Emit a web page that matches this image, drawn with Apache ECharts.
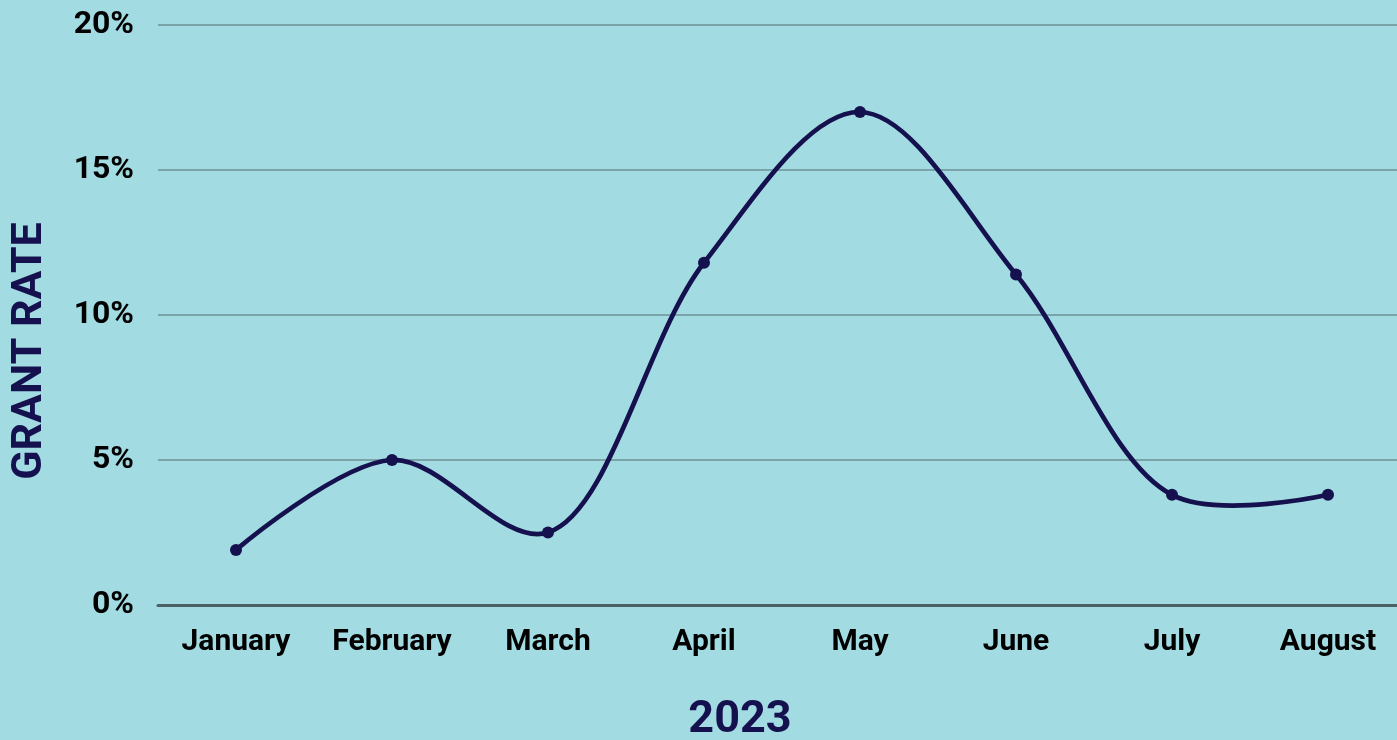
<!DOCTYPE html>
<html>
<head>
<meta charset="utf-8">
<script src="https://cdn.jsdelivr.net/npm/echarts@6/dist/echarts.min.js"></script>
<style>
  html, body { margin: 0; padding: 0; background: #a2dbe2; }
  #chart { width: 1397px; height: 740px; }
</style>
</head>
<body>
<div id="chart"></div>
<script>
// Monthly grant rate, 2023 (percent)
const months = ['January', 'February', 'March', 'April', 'May', 'June', 'July', 'August'];
const grantRate = [1.9, 5.0, 2.5, 11.8, 17.0, 11.4, 3.8, 3.8];
const yTicks = [0, 5, 10, 15, 20];

const navy = '#15114f';
const font = 'Roboto, "Liberation Sans", sans-serif';

// Centripetal Catmull-Rom spline (alpha = 0.5) through projected points, as cubic Beziers
function catmullRomPath(pts, alpha) {
  const eps = 1e-12;
  const dPow = (a, b) => Math.pow((a[0] - b[0]) ** 2 + (a[1] - b[1]) ** 2, alpha);
  let d = 'M' + pts[0][0] + ' ' + pts[0][1];
  for (let i = 0; i < pts.length - 1; i++) {
    const p0 = pts[i - 1], p1 = pts[i], p2 = pts[i + 1], p3 = pts[i + 2];
    const l12_2a = dPow(p1, p2), l12_a = Math.sqrt(l12_2a);
    let c1 = p1, c2 = p2;
    if (p0) {
      const l01_2a = dPow(p0, p1), l01_a = Math.sqrt(l01_2a);
      if (l01_a > eps) {
        const a = 2 * l01_2a + 3 * l01_a * l12_a + l12_2a;
        const n = 3 * l01_a * (l01_a + l12_a);
        c1 = [0, 1].map(k => (p1[k] * a - p0[k] * l12_2a + p2[k] * l01_2a) / n);
      }
    }
    if (p3) {
      const l23_2a = dPow(p2, p3), l23_a = Math.sqrt(l23_2a);
      if (l23_a > eps) {
        const b = 2 * l23_2a + 3 * l23_a * l12_a + l12_2a;
        const m = 3 * l23_a * (l23_a + l12_a);
        c2 = [0, 1].map(k => (p2[k] * b + p1[k] * l23_2a - p3[k] * l12_2a) / m);
      }
    }
    d += ' C' + c1[0] + ' ' + c1[1] + ' ' + c2[0] + ' ' + c2[1] + ' ' + p2[0] + ' ' + p2[1];
  }
  return d;
}

const chart = echarts.init(document.getElementById('chart'), null, { renderer: 'canvas' });
chart.setOption({
  backgroundColor: '#a2dbe2',
  animation: false,
  grid: { left: 158, right: -9, top: 25, bottom: 135, containLabel: false, outerBoundsMode: 'none' },
  xAxis: {
    type: 'category',
    data: months,
    boundaryGap: true,
    name: '2023',
    nameLocation: 'middle',
    nameGap: 93,
    nameTextStyle: {
      color: navy, fontFamily: font, fontWeight: 'bold', fontSize: 45,
      padding: [0, 84, 0, 0]
    },
    axisLine: { show: true, lineStyle: { color: '#4b6166', width: 3 } },
    axisTick: { show: false },
    axisLabel: {
      color: '#000', fontFamily: font, fontWeight: 'bold', fontSize: 30,
      margin: 22, interval: 0
    }
  },
  yAxis: {
    type: 'value',
    min: yTicks[0],
    max: yTicks[yTicks.length - 1],
    interval: yTicks[1] - yTicks[0],
    name: 'GRANT RATE',
    nameLocation: 'middle',
    nameRotate: 90,
    nameGap: 106,
    nameTextStyle: {
      color: navy, fontFamily: font, fontWeight: 'bold', fontSize: 43,
      padding: [0, 72, 0, 0]
    },
    axisLine: { show: false },
    axisTick: { show: false },
    axisLabel: {
      color: '#000', fontFamily: font, fontWeight: 'bold', fontSize: 32,
      margin: 24, formatter: v => v + '%'
    },
    splitLine: { show: true, lineStyle: { color: '#7aa4aa', width: 2 } }
  },
  series: [
    {
      // smoothed curve
      type: 'custom',
      data: grantRate.map((v, i) => [i, v]),
      encode: { x: 0, y: 1 },
      clip: false,
      z: 4,
      renderItem: function (params, api) {
        if (params.dataIndex !== 0) return;
        const pts = grantRate.map((v, i) => api.coord([i, v]));
        return {
          type: 'path',
          shape: { pathData: catmullRomPath(pts, 0.5) },
          style: { fill: null, stroke: navy, lineWidth: 4.7, lineCap: 'round', lineJoin: 'round' }
        };
      }
    },
    {
      // data points
      type: 'scatter',
      data: grantRate.map((v, i) => [i, v]),
      symbol: 'circle',
      symbolSize: 12,
      itemStyle: { color: navy, opacity: 1 },
      z: 5
    }
  ]
});
</script>
</body>
</html>
